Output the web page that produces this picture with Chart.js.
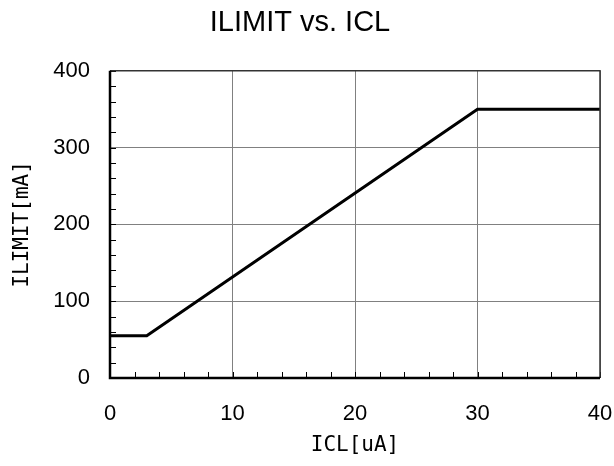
<!DOCTYPE html>
<html>
<head>
<meta charset="utf-8">
<script src="https://cdn.jsdelivr.net/npm/chart.js@4"></script>
<style>
  html, body { margin: 0; padding: 0; background: #fff; }
  #wrap { width: 614px; height: 466px; }
</style>
</head>
<body>
<div id="wrap"><canvas id="myChart" width="614" height="466"></canvas></div>
<script>
// ICL [uA] vs ILIMIT [mA]
const icl = [0, 3, 30, 40];
const ilimit = [55, 55, 350, 350];
const xTicks = [0, 10, 20, 30, 40];
const yTicks = [0, 100, 200, 300, 400];

// minor ticks inside the frame + frame itself
const frame = {
  id: 'frame',
  afterDraw(chart) {
    const c = chart.ctx, a = chart.chartArea;
    const sx = chart.scales.x, sy = chart.scales.y;
    c.save();
    c.strokeStyle = '#000';
    c.lineWidth = 1;
    for (let v = 0; v <= 40; v += 2) {
      const px = Math.round(sx.getPixelForValue(v)) + 0.5;
      c.beginPath(); c.moveTo(px, a.bottom); c.lineTo(px, a.bottom - 6); c.stroke();
    }
    for (let v = 0; v <= 400; v += 20) {
      const py = Math.round(sy.getPixelForValue(v)) + 0.5;
      c.beginPath(); c.moveTo(a.left, py); c.lineTo(a.left + 6, py); c.stroke();
    }
    c.lineWidth = 1.5;
    c.strokeStyle = '#333';
    c.beginPath();
    c.moveTo(a.left, a.top); c.lineTo(a.right, a.top); c.lineTo(a.right, a.bottom);
    c.stroke();
    c.lineWidth = 2.5;
    c.strokeStyle = '#000';
    c.beginPath();
    c.moveTo(a.left, a.top); c.lineTo(a.left, a.bottom); c.lineTo(a.right, a.bottom);
    c.stroke();
    c.restore();
  }
};

const ctx = document.getElementById('myChart').getContext('2d');
new Chart(ctx, {
  type: 'line',
  data: {
    datasets: [{
      label: 'ILIMIT',
      data: icl.map((x, i) => ({ x: x, y: ilimit[i] })),
      borderColor: '#000',
      borderWidth: 3,
      pointRadius: 0,
      fill: false,
      tension: 0
    }]
  },
  options: {
    responsive: false,
    animation: false,
    layout: { padding: { left: 0, right: 14, top: 0, bottom: 0 } },
    plugins: {
      legend: { display: false },
      tooltip: { enabled: false },
      title: {
        display: true,
        text: 'ILIMIT vs. ICL',
        color: '#000',
        font: { family: 'Liberation Sans, Arial', size: 29, weight: 'normal' },
        padding: { top: 6, bottom: 30 }
      }
    },
    scales: {
      x: {
        type: 'linear',
        min: 0, max: 40,
        afterBuildTicks: s => { s.ticks = xTicks.map(v => ({ value: v })); },
        afterFit: s => { s.height = 88; s.paddingLeft = 0; s.paddingRight = 0; },
        grid: { color: '#808080', lineWidth: 1, drawTicks: false },
        border: { display: false },
        ticks: {
          color: '#000',
          padding: 23,
          maxRotation: 0,
          font: { family: 'Liberation Sans, Arial', size: 22 }
        },
        title: {
          display: true,
          text: 'ICL[uA]',
          color: '#000',
          font: { family: 'DejaVu Sans Mono', size: 21 },
          padding: { top: 8, bottom: 8 }
        }
      },
      y: {
        type: 'linear',
        min: 0, max: 400,
        afterBuildTicks: s => { s.ticks = yTicks.map(v => ({ value: v })); },
        afterFit: s => { s.width = 110; s.paddingTop = 0; s.paddingBottom = 0; },
        grid: { color: '#808080', lineWidth: 1, drawTicks: false },
        border: { display: false },
        ticks: {
          color: '#000',
          padding: 20,
          font: { family: 'Liberation Sans, Arial', size: 22 }
        },
        title: {
          display: true,
          text: 'ILIMIT[mA]',
          color: '#000',
          font: { family: 'DejaVu Sans Mono', size: 21 },
          padding: { top: 10, bottom: 0 }
        }
      }
    }
  },
  plugins: [frame]
});
</script>
</body>
</html>
